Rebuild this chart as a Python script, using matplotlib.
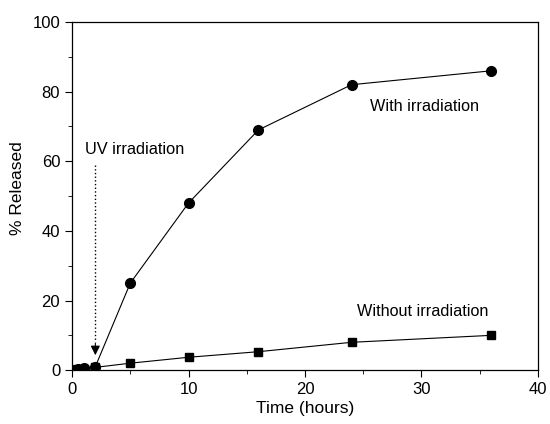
import matplotlib
matplotlib.use("Agg")
import matplotlib.pyplot as plt
from matplotlib.ticker import MultipleLocator

time_with = [0, 0.25, 0.5, 1, 2, 5, 10, 16, 24, 36]
released_with = [0, 0.1, 0.3, 0.6, 1, 25, 48, 69, 82, 86]
time_without = [0, 0.25, 0.5, 1, 2, 5, 10, 16, 24, 36]
released_without = [0, 0.1, 0.2, 0.4, 0.8, 2, 3.7, 5.3, 8, 10]

plt.rcParams['font.family'] = ['Liberation Sans', 'DejaVu Sans']

fig = plt.figure(figsize=(5.5, 4.24), dpi=100)
ax = fig.add_axes([0.131, 0.127, 0.847, 0.821])

ax.plot(time_with, released_with, '-o', color='black', lw=0.8, ms=7)
ax.plot(time_without, released_without, '-s', color='black', lw=0.8, ms=6)

ax.set_xlim(0, 40)
ax.set_ylim(0, 100)
ax.xaxis.set_major_locator(MultipleLocator(10))
ax.xaxis.set_minor_locator(MultipleLocator(5))
ax.yaxis.set_major_locator(MultipleLocator(20))
ax.yaxis.set_minor_locator(MultipleLocator(10))
ax.tick_params(which='both', direction='out', labelsize=12, top=False, right=False)
ax.tick_params(which='major', length=5)
ax.tick_params(which='minor', length=3)
for s in ax.spines.values():
    s.set_linewidth(0.9)

ax.set_xlabel('Time (hours)', fontsize=12.5, labelpad=3)
ax.set_ylabel('% Released', fontsize=12.5)
ax.yaxis.set_label_coords(-0.10, 0.523)

ax.text(1.1, 62, 'UV irradiation', fontsize=11.8)
ax.plot([2, 2], [59, 8], ':', color='black', lw=1)
ax.annotate('', xy=(2, 3.5), xytext=(2, 8.5),
            arrowprops=dict(arrowstyle='-|>', color='black', lw=0.8, mutation_scale=14))
ax.text(25.6, 74.5, 'With irradiation', fontsize=11.7)
ax.text(24.5, 15.5, 'Without irradiation', fontsize=11.7)

fig.savefig('out.png', dpi=100)
